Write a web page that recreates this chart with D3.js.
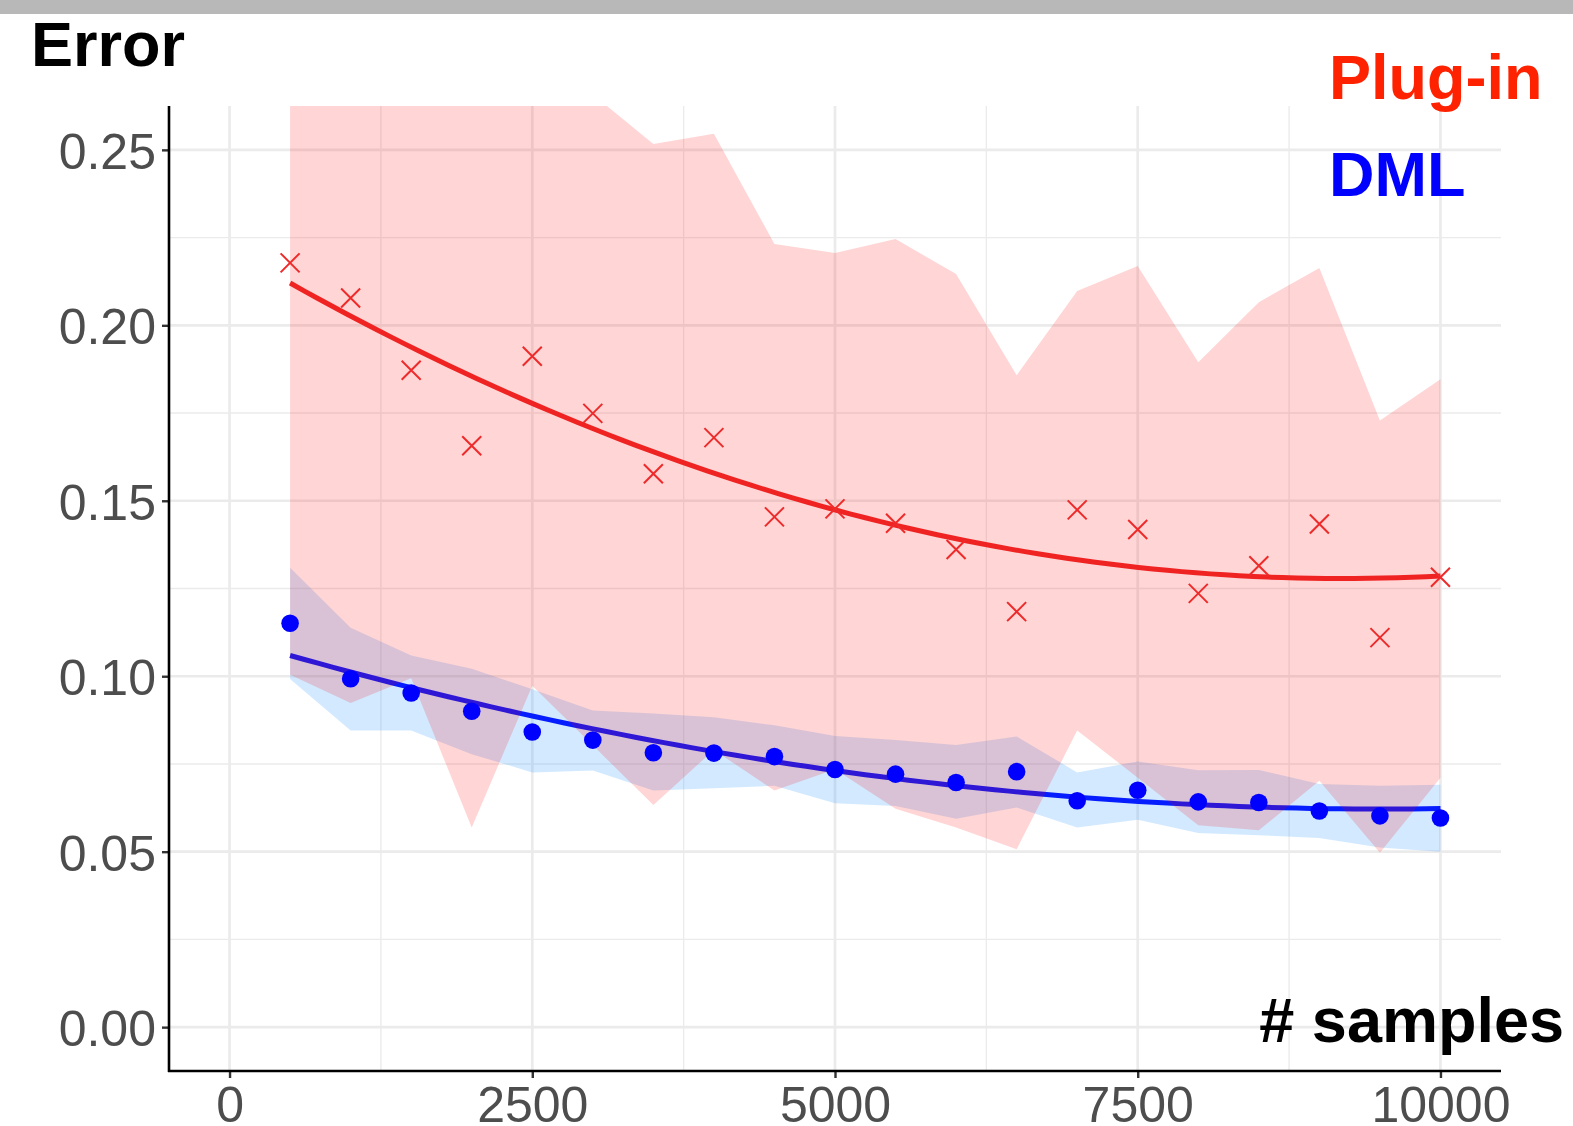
<!DOCTYPE html>
<html>
<head>
<meta charset="utf-8">
<script src="https://cdn.jsdelivr.net/npm/d3@7/dist/d3.min.js"></script>
<style>
body { margin: 0; background: #fff; }
svg text { font-family: "Liberation Sans", Arial, Helvetica, sans-serif; }
</style>
</head>
<body>
<div id="chart"></div>
<script>
const samples = [500, 1000, 1500, 2000, 2500, 3000, 3500, 4000, 4500, 5000,
                 5500, 6000, 6500, 7000, 7500, 8000, 8500, 9000, 9500, 10000]

const pluginErr = [0.2178, 0.2078, 0.1872, 0.1657, 0.1912, 0.1749, 0.1577, 0.1680, 0.1454, 0.1477,
                   0.1436, 0.1361, 0.1184, 0.1474, 0.1418, 0.1236, 0.1315, 0.1434, 0.1110, 0.1282]
const pluginLo = [0.1004, 0.0924, 0.0994, 0.0569, 0.0973, 0.0803, 0.0633, 0.0790, 0.0674, 0.0735,
                  0.0622, 0.0569, 0.0507, 0.0845, 0.0711, 0.0575, 0.0561, 0.0702, 0.0497, 0.0711]
const pluginHi = [0.315, 0.310, 0.290, 0.285, 0.280, 0.2658, 0.2517, 0.2546, 0.2232, 0.2206,
                  0.2246, 0.2146, 0.1858, 0.2098, 0.2169, 0.1895, 0.2066, 0.2163, 0.1729, 0.1846]

const dmlErr = [0.1151, 0.0993, 0.0952, 0.0900, 0.0841, 0.0818, 0.0782, 0.0781, 0.0771, 0.0734,
                0.0721, 0.0697, 0.0728, 0.0645, 0.0675, 0.0642, 0.0640, 0.0616, 0.0602, 0.0596]
const dmlLo = [0.0992, 0.0845, 0.0845, 0.0778, 0.0726, 0.0731, 0.0674, 0.0681, 0.0688, 0.0638,
               0.0630, 0.0594, 0.0626, 0.0569, 0.0591, 0.0553, 0.0547, 0.0539, 0.0512, 0.0500]
const dmlHi = [0.1309, 0.1138, 0.1059, 0.1021, 0.0963, 0.0902, 0.0894, 0.0883, 0.0860, 0.0830,
               0.0818, 0.0804, 0.0828, 0.0726, 0.0757, 0.0732, 0.0733, 0.0693, 0.0688, 0.0691]

const xTicks = [0, 2500, 5000, 7500, 10000]
const xMinor = [1250, 3750, 6250, 8750]
const yTicks = [0, 0.05, 0.10, 0.15, 0.20, 0.25]
const yMinor = [0.025, 0.075, 0.125, 0.175, 0.225]

// least squares fit of y ~ x + x^2, like geom_smooth(method = "lm", formula = y ~ poly(x, 2))
function quadFit(xs, ys) {
    const s = [0, 0, 0, 0, 0], t = [0, 0, 0]
    xs.forEach((x, i) => {
        const z = x / 10000
        for (let k = 0; k < 5; k++) s[k] += Math.pow(z, k)
        for (let k = 0; k < 3; k++) t[k] += Math.pow(z, k) * ys[i]
    })
    const det = (a) => a[0][0] * (a[1][1] * a[2][2] - a[1][2] * a[2][1])
        - a[0][1] * (a[1][0] * a[2][2] - a[1][2] * a[2][0])
        + a[0][2] * (a[1][0] * a[2][1] - a[1][1] * a[2][0])
    const m = [[s[0], s[1], s[2]], [s[1], s[2], s[3]], [s[2], s[3], s[4]]]
    const D = det(m)
    const coef = [0, 1, 2].map(c => {
        const mc = m.map((row, r) => row.map((v, k) => k === c ? t[r] : v))
        return det(mc) / D
    })
    return x => {
        const z = x / 10000
        return coef[0] + coef[1] * z + coef[2] * z * z
    }
}

function smooth(xs, ys) {
    const f = quadFit(xs, ys)
    const lo = d3.min(xs), hi = d3.max(xs)
    return d3.range(0, 81).map(i => {
        const x0 = lo + (hi - lo) * i / 80
        return [x0, f(x0)]
    })
}

function drawGrid(parent, gc, x, y) {
    const g = parent.append('g')
    const [x0, x1] = x.range(), [y0, y1] = y.range()
    g.selectAll('.vminor').data(xMinor).join('line')
        .attr('x1', d => x(d)).attr('x2', d => x(d)).attr('y1', y0).attr('y2', y1)
        .style('stroke', gc.grid.color).style('stroke-width', gc.grid.minor)
    g.selectAll('.hminor').data(yMinor).join('line')
        .attr('x1', x0).attr('x2', x1).attr('y1', d => y(d)).attr('y2', d => y(d))
        .style('stroke', gc.grid.color).style('stroke-width', gc.grid.minor)
    g.selectAll('.vmajor').data(xTicks).join('line')
        .attr('x1', d => x(d)).attr('x2', d => x(d)).attr('y1', y0).attr('y2', y1)
        .style('stroke', gc.grid.color).style('stroke-width', gc.grid.major)
    g.selectAll('.hmajor').data(yTicks).join('line')
        .attr('x1', x0).attr('x2', x1).attr('y1', d => y(d)).attr('y2', d => y(d))
        .style('stroke', gc.grid.color).style('stroke-width', gc.grid.major)
}

function drawRibbon(parent, x, y, lo, hi, fill, opacity) {
    const area = d3.area()
        .x((d, i) => x(samples[i]))
        .y0((d, i) => y(lo[i]))
        .y1((d, i) => y(hi[i]))
    parent.append('path')
        .datum(samples)
        .attr('d', area)
        .style('fill', fill)
        .style('fill-opacity', opacity)
}

function drawSmooth(parent, gc, x, y, ys, color) {
    const line = d3.line().x(d => x(d[0])).y(d => y(d[1]))
    parent.append('path')
        .datum(smooth(samples, ys))
        .attr('d', line)
        .style('fill', 'none')
        .style('stroke', color)
        .style('stroke-width', gc.smooth.width)
}

function drawAxes(parent, gc, x, y) {
    const [x0, x1] = x.range(), [y0, y1] = y.range()

    const ya = parent.append('g')
        .attr('transform', 'translate(' + x0 + ',0)')
        .call(d3.axisLeft(y).tickValues(yTicks).tickFormat(d3.format('.2f'))
            .tickSize(gc.axis.tick).tickPadding(6))
    ya.select('.domain').remove()
    ya.selectAll('.tick line').style('stroke', gc.axis.tickColor).style('stroke-width', gc.axis.tickWidth)
    ya.selectAll('.tick text')
        .attr('dy', '0.37em')
        .style('font-size', gc.axis.fontSize)
        .style('fill', gc.axis.textColor)

    const xa = parent.append('g')
        .attr('transform', 'translate(0,' + y0 + ')')
        .call(d3.axisBottom(x).tickValues(xTicks).tickFormat(d3.format('d'))
            .tickSize(gc.axis.tick).tickPadding(8))
    xa.select('.domain').remove()
    xa.selectAll('.tick line').style('stroke', gc.axis.tickColor).style('stroke-width', gc.axis.tickWidth)
    xa.selectAll('.tick text')
        .style('font-size', gc.axis.fontSize)
        .style('fill', gc.axis.textColor)

    parent.append('line')
        .attr('x1', x0).attr('x2', x0).attr('y1', y1).attr('y2', y0 + 1)
        .style('stroke', 'black').style('stroke-width', gc.axis.width)
    parent.append('line')
        .attr('x1', x0 - 1).attr('x2', x1).attr('y1', y0).attr('y2', y0)
        .style('stroke', 'black').style('stroke-width', gc.axis.width)
}

function drawLabel(parent, gc, x, y, text, color, anchor) {
    parent.append('text')
        .attr('x', x)
        .attr('y', y)
        .attr('text-anchor', anchor || 'start')
        .style('font-size', gc.label.fontSize)
        .style('font-weight', 'bold')
        .style('fill', color)
        .text(text)
}

function diagram(node) {
    const gc = {
        width: 1573,
        height: 1126,
        panel: { left: 169, right: 1501, top: 106, bottom: 1071 },
        grid: { color: '#ebebeb', major: 2.7, minor: 1.35 },
        axis: { width: 2.6, tick: 7, tickWidth: 2.4, tickColor: '#333333',
                fontSize: '50px', textColor: '#4d4d4d' },
        label: { fontSize: '63px' },
        smooth: { width: 5 },
        plugin: { color: '#ee2a2a', fill: '#ff0000', opacity: 0.165, legend: '#ff2200' },
        dml: { color: '#0000ff', fill: '#1e90ff', opacity: 0.2 },
        marker: { size: 9.5, width: 2, radius: 8.8 }
    }

    const svg = d3.select(node).append('svg')
        .attr('width', gc.width)
        .attr('height', gc.height)

    svg.append('rect')
        .attr('x', 0).attr('y', 0).attr('width', gc.width).attr('height', 14)
        .style('fill', '#b8b8b8')

    const x = d3.scaleLinear().domain([-500, 10500]).range([gc.panel.left, gc.panel.right])
    const y = d3.scaleLinear().domain([-0.0125, 0.2625]).range([gc.panel.bottom, gc.panel.top])

    svg.append('clipPath').attr('id', 'panel')
        .append('rect')
        .attr('x', gc.panel.left).attr('y', gc.panel.top)
        .attr('width', gc.panel.right - gc.panel.left)
        .attr('height', gc.panel.bottom - gc.panel.top)

    drawGrid(svg, gc, x, y)

    const plot = svg.append('g').attr('clip-path', 'url(#panel)')

    drawSmooth(plot, gc, x, y, dmlErr, gc.dml.color)
    drawSmooth(plot, gc, x, y, pluginErr, gc.plugin.color)
    drawRibbon(plot, x, y, dmlLo, dmlHi, gc.dml.fill, gc.dml.opacity)
    drawRibbon(plot, x, y, pluginLo, pluginHi, gc.plugin.fill, gc.plugin.opacity)

    plot.selectAll('.dml').data(samples).join('circle')
        .attr('cx', d => x(d))
        .attr('cy', (d, i) => y(dmlErr[i]))
        .attr('r', gc.marker.radius)
        .style('fill', gc.dml.color)

    const s = gc.marker.size
    plot.selectAll('.plugin').data(samples).join('path')
        .attr('transform', (d, i) => 'translate(' + x(d) + ',' + y(pluginErr[i]) + ')')
        .attr('d', 'M' + (-s) + ',' + (-s) + 'L' + s + ',' + s + 'M' + (-s) + ',' + s + 'L' + s + ',' + (-s))
        .style('fill', 'none')
        .style('stroke', gc.plugin.color)
        .style('stroke-width', gc.marker.width)

    drawAxes(svg, gc, x, y)

    drawLabel(svg, gc, 31, 66, 'Error', 'black')
    drawLabel(svg, gc, 1329, 99, 'Plug-in', gc.plugin.legend)
    drawLabel(svg, gc, 1329, 196, 'DML', gc.dml.color)
    drawLabel(svg, gc, 1564, 1042, '# samples', 'black', 'end')
}

diagram(document.getElementById('chart'))
</script>
</body>
</html>
